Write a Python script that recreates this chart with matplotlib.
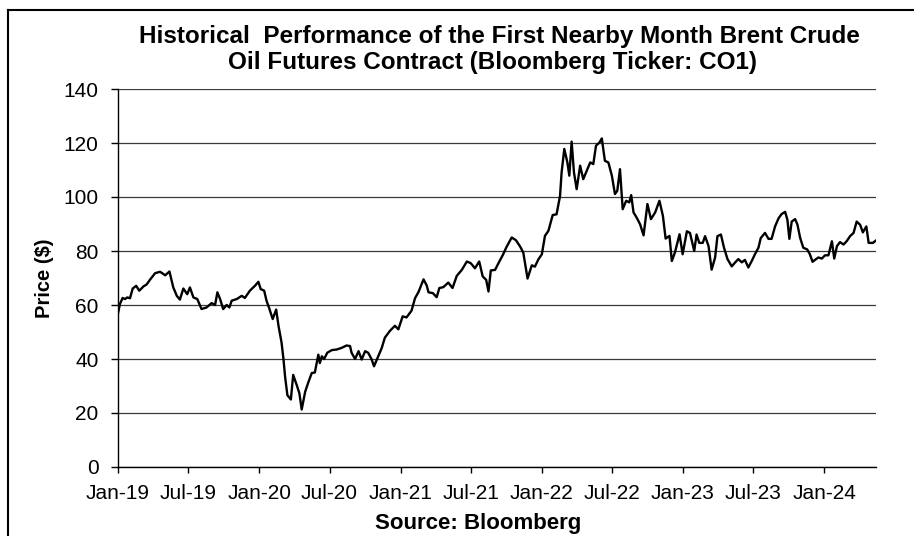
import matplotlib
matplotlib.use('Agg')
import matplotlib.pyplot as plt
import matplotlib.dates as mdates
from matplotlib.lines import Line2D
import numpy as np

plt.rcParams['font.family'] = ['Liberation Sans', 'DejaVu Sans']

# ---- data ----
start_date = '2019-01-01'
end_day = 1960  # last plotted day (offset from start)

days_since_start = [
    0, 5, 12, 18, 24, 31, 38, 47, 55, 66, 74, 84, 96, 109, 122, 133, 143, 152, 160, 169,
    179, 186, 195, 205, 216, 229, 242, 251, 257, 264, 272, 281, 288, 294, 307, 320, 328, 341, 354, 363,
    369, 378, 384, 391, 400, 409,
    415, 423, 428, 432, 438, 447, 453, 462, 469, 475, 484, 492, 501, 509, 518, 522, 527, 533, 541, 553,
    565, 578, 591, 600, 604, 613, 622, 630, 639, 647, 656, 662, 673, 682, 690, 703, 716, 725, 736, 746,
    759, 768, 777, 790, 798,
    803, 814, 824, 831, 841, 854, 865, 876, 889, 902, 912, 923, 934, 943, 952, 958, 964, 975, 986, 995,
    1005, 1018, 1029, 1040,
    1048, 1059, 1070, 1078, 1087, 1096, 1104, 1113, 1124, 1134, 1143, 1147, 1154, 1162, 1167, 1173, 1179, 1186, 1195, 1203,
    1212, 1221, 1229, 1236, 1245, 1251, 1259, 1268, 1277, 1285, 1291, 1298, 1305, 1314, 1322, 1327, 1333, 1341, 1350, 1359,
    1369, 1378, 1389, 1400, 1409, 1416, 1426, 1432, 1440, 1452, 1460,
    1471, 1479, 1490, 1496, 1503, 1512, 1518, 1527, 1535, 1544, 1550, 1559, 1567, 1576, 1587, 1596, 1604, 1613, 1621, 1630,
    1639, 1647, 1656, 1662, 1673, 1682, 1690, 1699, 1708, 1716, 1725, 1731, 1736, 1742, 1751, 1757, 1764, 1772, 1782, 1789,
    1796, 1805, 1811, 1820, 1828, 1837, 1846, 1852, 1859, 1867, 1876, 1884, 1893, 1902, 1910, 1919, 1926, 1935, 1941, 1952,
    1960,
]

prices = [
    56.9, 60.4, 62.6, 62.2, 62.8, 62.5, 66.1, 67.1, 65.3, 66.9, 67.6, 69.6, 71.8, 72.3, 71.0, 72.4, 66.5, 63.4, 62.0, 66.1,
    64.0, 66.5, 62.8, 62.2, 58.5, 59.1, 60.7, 60.0, 64.7, 62.2, 58.5, 60.0, 59.1, 61.6, 62.2, 63.4, 62.6, 65.3, 67.1, 68.6,
    65.9, 65.3, 61.6, 58.8, 54.8, 58.3,
    52.3, 46.0, 39.8, 33.5, 26.6, 25.0, 34.1, 30.4, 27.3, 21.3, 27.9, 31.3, 34.8, 35.0, 41.6, 38.5, 41.0, 40.0, 42.3, 43.3,
    43.5, 44.1, 45.0, 44.8, 42.3, 40.0, 42.9, 39.8, 42.9, 42.3, 39.8, 37.3, 41.0, 44.1, 47.9, 50.4, 52.3, 51.0, 55.8, 55.4,
    57.9, 62.5, 64.8, 69.5, 67.3,
    64.7, 64.4, 62.9, 66.3, 66.6, 68.3, 66.3, 70.8, 73.0, 76.1, 75.5, 73.6, 76.1, 70.6, 69.3, 65.0, 72.8, 73.0, 76.1, 78.5,
    81.6, 85.0, 84.0, 81.6,
    79.4, 69.8, 74.7, 74.2, 76.9, 78.8, 85.6, 87.5, 93.3, 93.6, 100.4, 109.0, 117.8, 112.8, 107.9, 120.5, 109.1, 102.9, 111.6, 106.6,
    109.7, 112.8, 112.2, 119.0, 120.2, 121.7, 113.4, 112.8, 107.9, 101.1, 102.3, 110.3, 95.5, 98.6, 98.0, 100.7, 94.3, 92.4, 89.9, 85.8,
    97.4, 91.8, 94.3, 98.6, 93.0, 84.6, 85.6, 76.3, 79.4, 86.2, 78.8,
    87.3, 86.7, 80.0, 86.1, 83.0, 83.0, 85.5, 81.8, 73.1, 77.6, 85.5, 86.1, 81.2, 77.0, 74.3, 75.8, 77.0, 75.8, 76.7, 73.9,
    76.4, 78.8, 81.2, 84.8, 86.7, 84.5, 84.5, 89.1, 92.1, 93.7, 94.5, 91.5, 84.5, 90.9, 91.8, 89.7, 84.8, 81.2, 80.6, 78.8,
    76.0, 77.0, 77.6, 77.2, 78.4, 78.4, 83.6, 77.2, 81.8, 83.3, 82.4, 83.6, 85.5, 86.7, 90.9, 89.7, 86.9, 89.1, 83.0, 83.0,
    83.9,
]

y_ticks = [0, 20, 40, 60, 80, 100, 120, 140]
title_line1 = 'Historical  Performance of the First Nearby Month Brent Crude'
title_line2 = 'Oil Futures Contract (Bloomberg Ticker: CO1)'
y_label = 'Price ($)'
source_text = 'Source: Bloomberg'

# ---- figure ----
W, H = 914, 536
fig = plt.figure(figsize=(W / 100, H / 100), dpi=100)
fig.patch.set_facecolor('white')

def fx(px):
    return px / W

def fy(py):
    return 1 - py / H

ax = fig.add_axes([fx(118), fy(467), fx(876) - fx(118), fy(89) - fy(467)])

t0 = np.datetime64(start_date)
dates = t0 + np.array(days_since_start, dtype='timedelta64[D]')
ax.plot(dates, prices, color='black', lw=1.7, solid_joinstyle='round')

ax.set_xlim(t0, t0 + np.timedelta64(end_day, 'D'))
ax.set_ylim(y_ticks[0], y_ticks[-1])
ax.set_yticks(y_ticks)
ax.yaxis.grid(True, color='#3a3a3a', lw=0.9)
ax.set_axisbelow(True)

ax.xaxis.set_major_locator(mdates.MonthLocator(bymonth=[1, 7]))
ax.xaxis.set_major_formatter(mdates.DateFormatter('%b-%y'))

for s in ['top', 'right']:
    ax.spines[s].set_visible(False)
for s in ['left', 'bottom']:
    ax.spines[s].set_color('black')
    ax.spines[s].set_linewidth(1.0)

ax.tick_params(axis='y', direction='out', length=5, width=1, labelsize=15, pad=9, colors='black')
ax.tick_params(axis='x', direction='out', length=4, width=1, labelsize=15, pad=8, colors='black')

fig.text(fx(45), fy(278), y_label, rotation=90, ha='center', va='center',
         fontsize=14.5, fontweight='bold')
fig.text(fx(499), fy(36), title_line1, ha='center', va='center', fontsize=17.5, fontweight='bold')
fig.text(fx(492), fy(63), title_line2, ha='center', va='center', fontsize=17.5, fontweight='bold')
fig.text(fx(478), fy(523), source_text, ha='center', va='center', fontsize=16, fontweight='bold')

# outer frame (extends past right and bottom edges)
fig.add_artist(Line2D([fx(8), 1.0], [fy(10), fy(10)], transform=fig.transFigure, color='black', lw=1.5))
fig.add_artist(Line2D([fx(8), fx(8)], [fy(10), 0.0], transform=fig.transFigure, color='black', lw=1.5))

fig.savefig('out.png', dpi=100)
